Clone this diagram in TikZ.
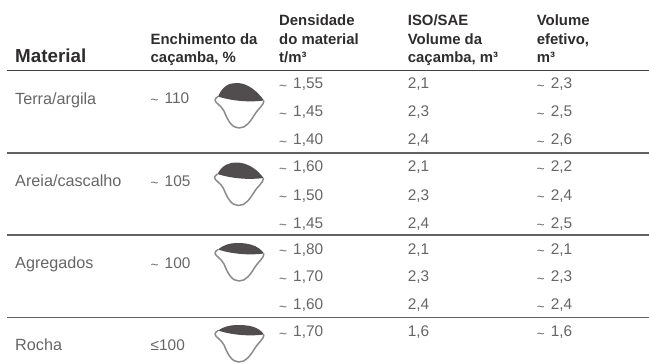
\documentclass[tikz,border=0pt]{standalone}
\usepackage{fontspec}
\setmainfont{Liberation Sans}
\newcommand{\tl}{\makebox[14pt][l]{\raisebox{-1.6pt}{\fontsize{13.5}{14}\selectfont\textasciitilde}}}
\definecolor{bodytxt}{HTML}{666668}
\definecolor{headtxt}{HTML}{2E2C2D}
\definecolor{soil}{HTML}{514C4D}
\definecolor{bucketline}{HTML}{8C8A8B}
\tikzset{
  celltxt/.style={anchor=base west,inner sep=0pt,text=bodytxt,font=\fontsize{16.2}{18}\selectfont},
  numcell/.style={anchor=base west,inner sep=0pt,text=bodytxt,font=\fontsize{15.4}{18}\selectfont},
  headcell/.style={anchor=base west,inner sep=0pt,text=headtxt,font=\fontsize{14.9}{18}\bfseries\selectfont},
  headbig/.style={anchor=base west,inner sep=0pt,text=headtxt,font=\fontsize{18.8}{22}\bfseries\selectfont},
  rulehead/.style={line width=1.4pt,draw=headtxt!90},
  rulerow/.style={line width=1.3pt,draw=black!62},
  pics/bucket/.style={code={
    \fill[soil] (3,-3.5) .. controls (8,-#1+2) and (15,-#1) .. (22,-#1)
       .. controls (33,-#1) and (43,-8) .. (49,0.5)
       .. controls (38,2) and (20,2) .. (3,-3.5) -- cycle;
    \draw[bucketline,line width=1.5pt,line join=round]
       (3,-3.5) .. controls (1,-2) and (0,-1) .. (0,0)
       .. controls (0,3) and (6,5) .. (9,11)
       .. controls (13,21) and (17,28) .. (24,28)
       .. controls (31,28) and (35,22) .. (40,14)
       .. controls (43,9) and (49,5) .. (49,0.5);
  }}
}
\begin{document}
\begin{tikzpicture}[x=1pt,y=-1pt]
\useasboundingbox (0,0) rectangle (649,364);
% rules
\coordinate (r0a) at (7,70.5); \coordinate (r0b) at (649,70.5);
\coordinate (r1a) at (7,153); \coordinate (r1b) at (649,153);
\coordinate (r2a) at (7,235); \coordinate (r2b) at (649,235);
\coordinate (r3a) at (7,317.5); \coordinate (r3b) at (649,317.5);
\draw[rulehead] (r0a) -- (r0b);
\draw[rulerow] (r1a) -- (r1b);
\draw[rulerow] (r2a) -- (r2b);
\draw[rulerow] (r3a) -- (r3b);
% header
\node[headbig] (hmat) at (15,63) {Material};
\node[headcell] (hen1) at (150.5,44) {Enchimento da};
\node[headcell] (hen2) at (150.5,62.3) {caçamba, \%};
\node[headcell] (hde1) at (279,25) {Densidade};
\node[headcell] (hde2) at (279,44) {do material};
\node[headcell] (hde3) at (279,62.3) {t/m³};
\node[headcell] (hiso1) at (407.7,25) {ISO/SAE};
\node[headcell] (hiso2) at (407.7,44) {Volume da};
\node[headcell] (hiso3) at (407.7,62.3) {caçamba, m³};
\node[headcell] (hef1) at (536.7,25) {Volume};
\node[headcell] (hef2) at (536.7,44) {efetivo,};
\node[headcell] (hef3) at (536.7,62.3) {m³};
% material and fill
\node[celltxt] (m1) at (15,104) {Terra/argila};
\node[celltxt] (m2) at (15,186) {Areia/cascalho};
\node[celltxt] (m3) at (15,268) {Agregados};
\node[celltxt] (m4) at (15,350.7) {Rocha};
\node[numcell] (f1) at (150.5,103) {\tl 110};
\node[numcell] (f2) at (150.5,186) {\tl 105};
\node[numcell] (f3) at (150.5,268) {\tl 100};
\node[numcell] (f4) at (150.5,350.7) {≤100};
% buckets
\pic at (215,100) {bucket=17};
\pic at (214.5,177.5) {bucket=15};
\pic at (215,253) {bucket=10};
\pic at (215,334) {bucket=9};
% density
\node[numcell] (d1) at (279,88.5) {\tl 1,55};
\node[numcell] (d2) at (279,116.5) {\tl 1,45};
\node[numcell] (d3) at (279,144.5) {\tl 1,40};
\node[numcell] (d4) at (279,171.7) {\tl 1,60};
\node[numcell] (d5) at (279,200) {\tl 1,50};
\node[numcell] (d6) at (279,228) {\tl 1,45};
\node[numcell] (d7) at (279,254) {\tl 1,80};
\node[numcell] (d8) at (279,281.7) {\tl 1,70};
\node[numcell] (d9) at (279,309.5) {\tl 1,60};
\node[numcell] (d10) at (279,336.7) {\tl 1,70};
% ISO/SAE
\node[numcell] (v1) at (407.7,88.5) {2,1};
\node[numcell] (v2) at (407.7,116.5) {2,3};
\node[numcell] (v3) at (407.7,144.5) {2,4};
\node[numcell] (v4) at (407.7,171.7) {2,1};
\node[numcell] (v5) at (407.7,200) {2,3};
\node[numcell] (v6) at (407.7,228) {2,4};
\node[numcell] (v7) at (407.7,254) {2,1};
\node[numcell] (v8) at (407.7,281.7) {2,3};
\node[numcell] (v9) at (407.7,309.5) {2,4};
\node[numcell] (v10) at (407.7,336.7) {1,6};
% effective
\node[numcell] (e1) at (536.7,88.5) {\tl 2,3};
\node[numcell] (e2) at (536.7,116.5) {\tl 2,5};
\node[numcell] (e3) at (536.7,144.5) {\tl 2,6};
\node[numcell] (e4) at (536.7,171.7) {\tl 2,2};
\node[numcell] (e5) at (536.7,200) {\tl 2,4};
\node[numcell] (e6) at (536.7,228) {\tl 2,5};
\node[numcell] (e7) at (536.7,254) {\tl 2,1};
\node[numcell] (e8) at (536.7,281.7) {\tl 2,3};
\node[numcell] (e9) at (536.7,309.5) {\tl 2,4};
\node[numcell] (e10) at (536.7,336.7) {\tl 1,6};
\end{tikzpicture}
\end{document}
